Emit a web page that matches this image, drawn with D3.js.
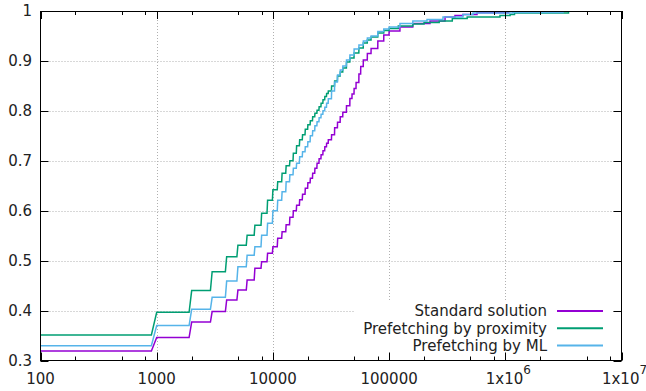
<!DOCTYPE html>
<html>
<head>
<meta charset="utf-8">
<script src="https://cdn.jsdelivr.net/npm/d3@7"></script>
<style>
  html, body { margin: 0; padding: 0; background: #fff; }
  svg { display: block; font-family: "DejaVu Sans", sans-serif; }
</style>
</head>
<body>
<div id="chart"></div>
<script>
// CDF samples (x = latency, y = cumulative fraction)
const denseX = [100, 1000, 2000, 3000, 4000, 5000, 6000, 7000, 8000, 9000, 10000,
  11000, 12000, 13000, 14000, 15000, 16000, 17000, 18000, 19000, 20000,
  21000, 22000, 23000, 24000, 25000, 26000, 27000, 28000, 29000, 30000];

const standardDense = [0.319, 0.346, 0.377, 0.398, 0.421, 0.441, 0.461, 0.485, 0.498, 0.515, 0.528,
  0.545, 0.558, 0.572, 0.587, 0.600, 0.611, 0.622, 0.633, 0.645, 0.656,
  0.665, 0.675, 0.685, 0.695, 0.704, 0.712, 0.720, 0.728, 0.735, 0.742];
const standardTailX = [32000, 34000, 36000, 38000, 40000, 43000, 46000, 48000, 50000, 52000, 55000, 57000, 60000, 65000,
  70000, 80000, 90000, 100000, 124000, 160000, 225000, 303000, 369000, 432000, 571000, 1070000];
const standardTailY = [0.752, 0.766, 0.777, 0.788, 0.797, 0.810, 0.825, 0.834, 0.845, 0.857, 0.874, 0.889, 0.902, 0.915,
  0.925, 0.940, 0.952, 0.960, 0.968, 0.975, 0.980, 0.988, 0.991, 0.993, 0.9965, 1.0];

const proximityDense = [0.351, 0.3965, 0.440, 0.478, 0.508, 0.531, 0.551, 0.571, 0.595, 0.621, 0.642,
  0.658, 0.675, 0.690, 0.700, 0.715, 0.730, 0.742, 0.752, 0.763, 0.772,
  0.780, 0.788, 0.795, 0.801, 0.808, 0.815, 0.822, 0.829, 0.835, 0.840];
const proximityTailX = [32000, 34000, 36000, 38000, 40000, 43000, 46000, 50000, 55000, 60000, 65000,
  70000, 80000, 90000, 100000, 120000, 160000, 200000, 270000, 350000, 470000, 900000, 1100000, 1200000, 3500000];
const proximityTailY = [0.850, 0.860, 0.870, 0.878, 0.886, 0.898, 0.906, 0.916, 0.926, 0.936, 0.942,
  0.948, 0.956, 0.961, 0.965, 0.970, 0.974, 0.977, 0.980, 0.985, 0.988, 0.991, 0.993, 0.996, 1.0];

const mlDense = [0.3296, 0.370, 0.4025, 0.4266, 0.459, 0.488, 0.511, 0.528, 0.551, 0.575, 0.600,
  0.621, 0.638, 0.658, 0.672, 0.685, 0.695, 0.708, 0.718, 0.728, 0.738,
  0.750, 0.760, 0.770, 0.778, 0.786, 0.793, 0.800, 0.807, 0.815, 0.824];
const mlTailX = [32000, 34000, 36000, 38000, 40000, 43000, 46000, 50000, 55000, 60000, 65000,
  70000, 80000, 90000, 100000, 124000, 160000, 212000, 291000, 432000, 527000, 1160000, 3140000];
const mlTailY = [0.840, 0.858, 0.872, 0.882, 0.890, 0.902, 0.912, 0.924, 0.932, 0.940, 0.946,
  0.950, 0.959, 0.964, 0.968, 0.975, 0.980, 0.983, 0.988, 0.993, 0.996, 0.997, 1.0];

const seriesNames = ['Standard solution', 'Prefetching by proximity', 'Prefetching by ML'];
const seriesColors = ['#9400d3', '#009e73', '#56b4e9'];

const yTicks = [0.3, 0.4, 0.5, 0.6, 0.7, 0.8, 0.9, 1];
const yTickLabels = ['0.3', '0.4', '0.5', '0.6', '0.7', '0.8', '0.9', '1'];
const xTicks = [100, 1000, 10000, 100000, 1e6, 1e7];
const xTickLabels = ['100', '1000', '10000', '100000', '1x10^6', '1x10^7'];
const xMinorFactors = [2, 5, 8];

const width = 646;
const height = 391;
const plot = { left: 40.5, right: 621.5, top: 11, bottom: 360.5 };
const RISE = 100; // each step climbs over one 100-unit bin

const x = d3.scaleLog().domain([100, 1e7]).range([plot.left, plot.right]);
const y = d3.scaleLinear().domain([0.3, 1]).range([plot.bottom, plot.top]);

const svg = d3.select('#chart').append('svg')
  .attr('width', width)
  .attr('height', height);

// grid
const grid = svg.append('g')
  .attr('stroke', '#b0b0b0')
  .attr('stroke-width', 1)
  .attr('stroke-dasharray', '1,2');
grid.selectAll('.gy').data(yTicks.slice(1, -1)).enter().append('line')
  .attr('x1', plot.left).attr('x2', plot.right)
  .attr('y1', d => Math.round(y(d)) + 0.5).attr('y2', d => Math.round(y(d)) + 0.5);
grid.selectAll('.gx').data(xTicks.slice(1, -1)).enter().append('line')
  .attr('y1', plot.top).attr('y2', plot.bottom)
  .attr('x1', d => Math.round(x(d)) + 0.5).attr('x2', d => Math.round(x(d)) + 0.5);

// curves
function toPath(xs, ys) {
  const pts = [[xs[0], ys[0]]];
  for (let i = 1; i < xs.length; i++) {
    pts.push([xs[i] - RISE, ys[i - 1]]);
    pts.push([xs[i], ys[i]]);
  }
  return pts;
}

const series = [
  toPath(denseX.concat(standardTailX), standardDense.concat(standardTailY)),
  toPath(denseX.concat(proximityTailX), proximityDense.concat(proximityTailY)),
  toPath(denseX.concat(mlTailX), mlDense.concat(mlTailY))
];

const line = d3.line().x(d => x(d[0])).y(d => y(d[1]));

svg.append('g').selectAll('path').data(series).enter().append('path')
  .attr('d', line)
  .attr('fill', 'none')
  .attr('stroke', (d, i) => seriesColors[i])
  .attr('stroke-width', 1.5)
  .attr('stroke-linejoin', 'miter');

// legend (opaque box, no border)
const legend = svg.append('g');
legend.append('rect')
  .attr('x', 355).attr('y', 302).attr('width', 257).attr('height', 52)
  .attr('fill', '#fff');
seriesNames.forEach((name, i) => {
  const cy = 311 + i * 17.3;
  legend.append('text')
    .attr('x', 547).attr('y', cy)
    .attr('dy', '0.36em')
    .attr('text-anchor', 'end')
    .attr('font-size', 15)
    .attr('fill', '#222')
    .text(name);
  legend.append('line')
    .attr('x1', 557).attr('x2', 603)
    .attr('y1', cy).attr('y2', cy)
    .attr('stroke', seriesColors[i])
    .attr('stroke-width', 2);
});

// border and ticks
const axes = svg.append('g').attr('stroke', '#000').attr('stroke-width', 1);
axes.append('rect')
  .attr('x', plot.left).attr('y', plot.top + 0.5)
  .attr('width', plot.right - plot.left).attr('height', plot.bottom - plot.top - 0.5)
  .attr('fill', 'none');

const minor = [];
for (let p = 100; p < 1e7; p *= 10) xMinorFactors.forEach(f => minor.push(p * f));

xTicks.forEach(t => {
  const px = Math.round(x(t)) + 0.5;
  axes.append('line').attr('x1', px).attr('x2', px).attr('y1', plot.bottom).attr('y2', plot.bottom - 8);
  axes.append('line').attr('x1', px).attr('x2', px).attr('y1', plot.top).attr('y2', plot.top + 8);
});
minor.forEach(t => {
  const px = Math.round(x(t)) + 0.5;
  axes.append('line').attr('x1', px).attr('x2', px).attr('y1', plot.bottom).attr('y2', plot.bottom - 4);
  axes.append('line').attr('x1', px).attr('x2', px).attr('y1', plot.top).attr('y2', plot.top + 4);
});
yTicks.forEach(t => {
  const py = Math.round(y(t)) + 0.5;
  axes.append('line').attr('x1', plot.left).attr('x2', plot.left + 8).attr('y1', py).attr('y2', py);
  axes.append('line').attr('x1', plot.right).attr('x2', plot.right - 8).attr('y1', py).attr('y2', py);
});

// tick labels
const labels = svg.append('g').attr('font-size', 15).attr('fill', '#222');
yTicks.forEach((t, i) => {
  labels.append('text')
    .attr('x', 32).attr('y', y(t))
    .attr('dy', '0.36em')
    .attr('text-anchor', 'end')
    .text(yTickLabels[i]);
});
xTicks.forEach((t, i) => {
  const parts = xTickLabels[i].split('^');
  const txt = labels.append('text')
    .attr('x', x(t) + (parts.length > 1 ? 3 : 0)).attr('y', 384)
    .attr('text-anchor', 'middle');
  txt.append('tspan').text(parts[0]);
  if (parts.length > 1) {
    txt.append('tspan').attr('font-size', 12).attr('dy', -10).text(parts[1]);
  }
});
</script>
</body>
</html>
